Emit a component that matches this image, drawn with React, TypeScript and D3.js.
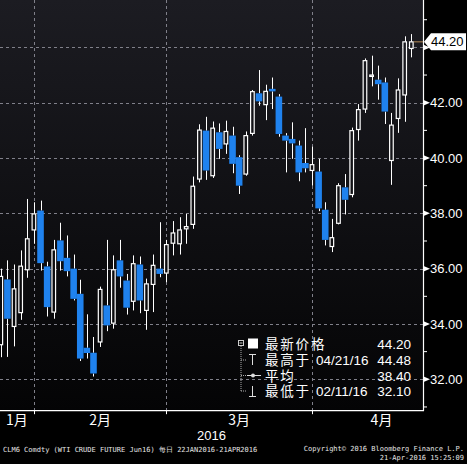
import React from 'react';
import * as d3 from 'd3';

const dates = [
  '01-22', '01-25', '01-26', '01-27', '01-28', '01-29',
  '02-01', '02-02', '02-03', '02-04', '02-05', '02-08', '02-09', '02-10', '02-11', '02-12',
  '02-16', '02-17', '02-18', '02-19', '02-22', '02-23', '02-24', '02-25', '02-26', '02-29',
  '03-01', '03-02', '03-03', '03-04', '03-07', '03-08', '03-09', '03-10', '03-11',
  '03-14', '03-15', '03-16', '03-17', '03-18', '03-21', '03-22', '03-23', '03-24',
  '03-28', '03-29', '03-30', '03-31',
  '04-01', '04-04', '04-05', '04-06', '04-07', '04-08', '04-11', '04-12', '04-13', '04-14', '04-15',
  '04-18', '04-19', '04-20', '04-21',
];
const opens = [
  33.25, 35.61, 33.91, 34.41, 35.96, 37.40,
  38.10, 36.08, 34.43, 37.02, 36.39, 36.00, 35.09, 33.14, 32.96, 33.35,
  34.67, 34.03, 36.30, 35.57, 34.82, 36.15, 34.49, 35.43, 36.00, 35.84,
  36.92, 36.90, 37.44, 37.60, 39.24, 40.99, 39.36, 40.93, 40.51,
  40.81, 40.03, 39.42, 40.89, 42.34, 41.93, 42.50, 42.22, 40.81,
  40.69, 40.45, 39.82, 39.55,
  39.51, 38.13, 36.80, 37.64, 38.94, 38.68, 41.03, 41.77, 42.95, 42.83, 42.73,
  39.91, 41.43, 42.28, 43.96,
];
const highs = [
  36.00, 36.30, 36.15, 36.66, 38.52, 38.40,
  38.46, 36.25, 37.04, 37.66, 37.20, 36.51, 35.60, 34.35, 33.53, 35.35,
  37.04, 36.48, 37.04, 35.81, 36.48, 36.44, 35.64, 36.51, 37.68, 37.04,
  37.72, 37.86, 37.98, 39.33, 41.22, 41.49, 41.32, 41.25, 41.35,
  41.13, 40.10, 40.96, 42.46, 43.18, 42.65, 42.91, 42.31, 40.90,
  41.29, 40.63, 41.08, 40.41,
  39.97, 38.40, 37.80, 39.09, 39.42, 41.10, 41.95, 43.60, 43.70, 43.34, 42.91,
  41.63, 42.88, 44.40, 44.48,
];
const lows = [
  32.80, 32.81, 33.19, 34.15, 35.67, 36.90,
  35.93, 34.27, 34.19, 35.93, 35.72, 34.85, 32.66, 32.75, 32.10, 33.17,
  33.74, 33.83, 35.31, 34.34, 34.49, 34.39, 33.79, 34.43, 35.69, 35.51,
  36.48, 36.51, 36.90, 37.44, 39.12, 39.21, 39.28, 39.97, 40.15,
  39.45, 38.70, 39.36, 40.81, 41.89, 41.37, 41.77, 40.77, 39.48,
  39.97, 39.16, 39.48, 39.00,
  38.08, 36.84, 36.60, 37.60, 37.96, 38.58, 40.63, 41.63, 42.59, 42.11, 41.23,
  39.03, 40.91, 41.31, 43.64,
];
const closes = [
  35.72, 34.19, 35.27, 36.09, 37.08, 37.98,
  36.20, 34.61, 36.68, 36.27, 35.91, 34.91, 32.75, 32.95, 32.21, 35.25,
  33.95, 35.96, 35.72, 34.59, 36.18, 34.85, 35.45, 36.12, 35.81, 36.87,
  37.29, 37.40, 37.52, 38.98, 41.01, 39.55, 41.08, 40.33, 40.96,
  39.79, 39.00, 40.81, 42.40, 42.05, 42.41, 42.41, 40.87, 40.63,
  40.53, 39.48, 39.63, 39.76,
  38.18, 37.04, 37.12, 39.00, 38.49, 40.99, 41.75, 43.52, 43.00, 42.67, 41.68,
  41.19, 42.46, 44.20, 44.20,
];

const priceTicks = [32, 34, 36, 38, 40, 42, 44];
const minorTicks = [31, 33, 35, 37, 39, 41, 43, 45];
const monthLabels = ['1月', '2月', '3月', '4月'];
const monthEndIdx = [5, 25, 47, 68];
const yearLabel = '2016';
const lastPrice = 44.2;
const legendNames = ['最新价格', '最高于', '平均', '最低于'];
const legendDates = ['', '04/21/16', '', '02/11/16'];
const legendValues = ['44.20', '44.48', '38.40', '32.10'];
const footerLeft = 'CLM6 Comdty (WTI CRUDE FUTURE  Jun16)  每日 22JAN2016-21APR2016';
const footerRight1 = 'Copyright\u00A9 2016 Bloomberg Finance L.P.';
const footerRight2 = '21-Apr-2016 15:25:09';

const W = 467;
const H = 464;
const plotRight = 423;
const axisY = 410.7;
const BLUE = '#1f82ee';
const NUM_FONT = '"Liberation Sans", Arial, sans-serif';
const CJK_FONT = '"Noto Sans CJK SC", "Liberation Sans", sans-serif';
const MONO = '"DejaVu Sans Mono", monospace';

export default function App() {
  const x = d3.scaleLinear().domain([0, dates.length - 1]).range([0.8, 411.3]);
  const y = d3.scaleLinear().domain([32, 42]).range([379.3, 102.7]);
  const fmt = d3.format('.2f');

  const monthCenters = monthEndIdx.map((e, i) => {
    const x0 = i === 0 ? 0 : x(monthEndIdx[i - 1]);
    const x1 = x(e);
    return (Math.max(0, x0) + x1) / 2;
  });
  const gridXs = monthEndIdx.filter((e) => e < dates.length).map((e) => x(e));

  const lastY = y(lastPrice);
  const legendRowY = [344, 360, 375.5, 391];

  return (
    <svg
      width={W}
      height={H}
      style={{ position: 'absolute', left: 0, top: 0, display: 'block' }}
    >
      <defs>
        <linearGradient id="bg" gradientUnits="userSpaceOnUse" x1="0" y1="0" x2="0" y2={axisY}>
          <stop offset="0" stopColor="#1c1c22" />
          <stop offset="1" stopColor="#040405" />
        </linearGradient>
        <clipPath id="plotClip">
          <rect x={0} y={0} width={plotRight} height={axisY} />
        </clipPath>
      </defs>
      <rect x={0} y={0} width={W} height={H} fill="#000" />
      <rect x={0} y={0} width={plotRight} height={axisY} fill="url(#bg)" />

      {/* gridlines */}
      <g stroke="#80808a" strokeWidth={1} strokeDasharray="3,3">
        {priceTicks.map((p) => (
          <line key={'h' + p} x1={0} x2={plotRight} y1={Math.round(y(p)) + 0.5} y2={Math.round(y(p)) + 0.5} />
        ))}
        {gridXs.map((gx, i) => (
          <line key={'v' + i} x1={Math.round(gx) + 0.5} x2={Math.round(gx) + 0.5} y1={0} y2={axisY} />
        ))}
      </g>

      {/* candles */}
      <g clipPath="url(#plotClip)">
        {dates.map((d, i) => {
          const cx = x(i);
          const up = closes[i] >= opens[i];
          const top = y(Math.max(opens[i], closes[i]));
          const bot = y(Math.min(opens[i], closes[i]));
          const wx = Math.round(cx) + 0.5;
          return (
            <g key={d}>
              <line x1={wx} x2={wx} y1={y(highs[i])} y2={top} stroke="#fff" strokeWidth={1} />
              <line x1={wx} x2={wx} y1={bot} y2={y(lows[i])} stroke="#fff" strokeWidth={1} />
              {up ? (
                <rect
                  x={cx - 1.8}
                  y={top}
                  width={3.6}
                  height={Math.max(1, bot - top)}
                  fill="url(#bg)"
                  stroke="#fff"
                  strokeWidth={1.2}
                />
              ) : (
                <rect x={cx - 3.3} y={top} width={6.6} height={Math.max(1.5, bot - top)} fill={BLUE} />
              )}
            </g>
          );
        })}
        <line x1={x(dates.length - 1) + 2.5} x2={plotRight} y1={lastY} y2={lastY} stroke="#b58a55" strokeWidth={1} />
      </g>

      {/* right axis */}
      <line x1={plotRight + 0.5} x2={plotRight + 0.5} y1={0} y2={axisY} stroke="#fff" strokeWidth={1.2} />
      {minorTicks.map((p) => (
        <line key={'m' + p} x1={plotRight} x2={plotRight + 4} y1={y(p)} y2={y(p)} stroke="#fff" strokeWidth={1} />
      ))}
      {priceTicks.map((p) => (
        <g key={'t' + p}>
          <path d={`M${plotRight},${y(p) - 3}L${plotRight + 7},${y(p)}L${plotRight},${y(p) + 3}Z`} fill="#fff" />
          {p !== 44 && (
            <text x={430} y={y(p) + 4.6} fill="#fff" fontSize={13} fontFamily={NUM_FONT}>
              {fmt(p)}
            </text>
          )}
        </g>
      ))}
      {/* last price tag */}
      <path
        d={`M${plotRight + 1},${lastY}L${plotRight + 8},${lastY - 8.5}L${W - 1},${lastY - 8.5}L${W - 1},${lastY + 8.5}L${plotRight + 8},${lastY + 8.5}Z`}
        fill="#fff"
      />
      <text x={431} y={lastY + 4.6} fill="#000" fontSize={13} fontFamily={NUM_FONT}>
        {fmt(lastPrice)}
      </text>

      {/* x axis */}
      <line x1={0} x2={plotRight + 1} y1={axisY} y2={axisY} stroke="#fff" strokeWidth={1.2} />
      {gridXs.map((gx, i) => (
        <line key={'xt' + i} x1={Math.round(gx) + 0.5} x2={Math.round(gx) + 0.5} y1={axisY} y2={axisY + 3.5} stroke="#fff" strokeWidth={1} />
      ))}
      {monthLabels.map((m, i) => (
        <text key={m} x={monthCenters[i]} y={424.5} fill="#fff" fontSize={14} fontFamily={CJK_FONT} textAnchor="middle">
          {m}
        </text>
      ))}
      <text x={plotRight / 2} y={440} fill="#fff" fontSize={13} fontFamily={NUM_FONT} textAnchor="middle">
        {yearLabel}
      </text>

      {/* legend */}
      <g>
        <line x1={241} x2={241} y1={346} y2={legendRowY[3]} stroke="#aaa" strokeWidth={1} strokeDasharray="1,1" />
        {legendRowY.slice(1).map((ry, i) => (
          <line key={'br' + i} x1={241} x2={247} y1={ry} y2={ry} stroke="#aaa" strokeWidth={1} strokeDasharray="1,1" />
        ))}
        <rect x={238.5} y={340.5} width={5} height={5} fill="#000" stroke="#ccc" strokeWidth={1} />
        <line x1={239.5} x2={242.5} y1={343} y2={343} stroke="#ccc" strokeWidth={1} />
        <rect x={248} y={338.5} width={10} height={10} fill="#fff" />
        <line x1={249} x2={256} y1={354.5} y2={354.5} stroke="#ddd" strokeWidth={1} />
        <line x1={252.5} x2={252.5} y1={354.5} y2={365} stroke="#ddd" strokeWidth={1} />
        <line x1={247} x2={261} y1={legendRowY[2]} y2={legendRowY[2]} stroke="#ddd" strokeWidth={1} />
        <circle cx={253} cy={legendRowY[2]} r={2} fill="#ddd" />
        <line x1={252.5} x2={252.5} y1={386} y2={396} stroke="#ddd" strokeWidth={1} />
        <line x1={249} x2={256} y1={396.5} y2={396.5} stroke="#ddd" strokeWidth={1} />
        {legendNames.map((n, i) => (
          <text key={n} x={265} y={legendRowY[i] + 5} fill="#fff" fontSize={13.5} letterSpacing={1.8} fontFamily={CJK_FONT}>
            {n}
          </text>
        ))}
        {legendDates.map((dt, i) =>
          dt ? (
            <text key={'ld' + i} x={316} y={legendRowY[i] + 5} fill="#fff" fontSize={13.5} fontFamily={NUM_FONT}>
              {dt}
            </text>
          ) : null
        )}
        {legendValues.map((v, i) => (
          <text key={'lv' + i} x={411} y={legendRowY[i] + 5} fill="#fff" fontSize={13.5} fontFamily={NUM_FONT} textAnchor="end">
            {v}
          </text>
        ))}
      </g>

      {/* footer */}
      <text x={3} y={452} fill="#e6e6e6" fontSize={7} fontFamily={MONO}>
        {footerLeft}
      </text>
      <text x={464} y={451} fill="#e6e6e6" fontSize={7} fontFamily={MONO} textAnchor="end">
        {footerRight1}
      </text>
      <text x={464} y={460} fill="#e6e6e6" fontSize={7} fontFamily={MONO} textAnchor="end">
        {footerRight2}
      </text>
    </svg>
  );
}
